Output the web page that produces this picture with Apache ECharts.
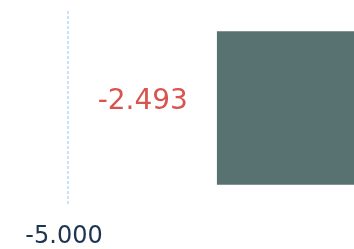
<!DOCTYPE html>
<html>
<head>
<meta charset="utf-8">
<style>
  html, body { margin: 0; padding: 0; background: #fff; overflow: hidden; }
  #wrap { width: 354px; height: 249px; overflow: hidden; }
  #chart { width: 365px; height: 249px; }
</style>
<script src="https://cdn.jsdelivr.net/npm/echarts@6/dist/echarts.min.js"></script>
</head>
<body>
<div id="wrap"><div id="chart"></div></div>
<script>
// data
var categories = ["A"];
var values = [-2.493];
var axisMin = -5;
var axisMax = 0;

var chart = echarts.init(document.getElementById("chart"));

var option = {
  animation: false,
  grid: { left: 68, right: 0, top: 11, bottom: 44, containLabel: false },
  xAxis: {
    type: "value",
    min: axisMin,
    max: axisMax,
    interval: 5,
    axisLine: { show: false },
    axisTick: { show: false },
    splitLine: {
      show: true,
      lineStyle: { color: "#c8e3fb", type: [3, 2], width: 2 }
    },
    axisLabel: {
      color: "#1d3550",
      fontFamily: "DejaVu Sans",
      fontSize: 24,
      margin: 20,
      showMaxLabel: false,
      padding: [0, 8, 0, 0],
      formatter: function (v) { return v.toFixed(3); }
    }
  },
  yAxis: {
    type: "category",
    data: categories,
    show: false
  },
  series: [
    {
      type: "bar",
      data: values,
      barWidth: "79%",
      itemStyle: { color: "#587271" },
      label: {
        show: true,
        position: "left",
        distance: 29,
        offset: [0, -6],
        color: "#d9534f",
        fontFamily: "DejaVu Sans",
        fontSize: 28,
        formatter: function (p) { return p.value.toFixed(3); }
      }
    }
  ]
};
chart.setOption(option);
</script>
</body>
</html>
